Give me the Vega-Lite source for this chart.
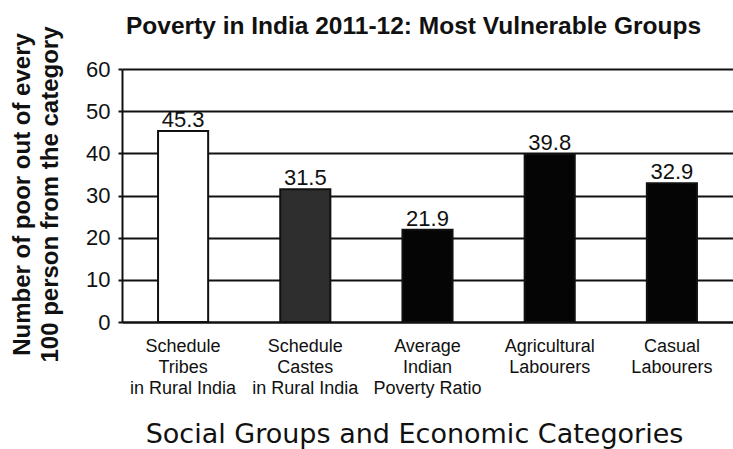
{
  "$schema": "https://vega.github.io/schema/vega-lite/v6.json",
  "autosize": "none",
  "width": 611,
  "height": 253,
  "padding": {"left": 122, "top": 69, "right": 0, "bottom": 127},
  "background": "white",
  "title": {
    "text": "Poverty in India 2011-12: Most Vulnerable Groups",
    "font": "Liberation Sans",
    "fontSize": 24.5,
    "fontWeight": "bold",
    "color": "#111",
    "anchor": "middle",
    "dx": -14,
    "dy": 18,
    "offset": 4
  },
  "data": {
    "values": [
      {"category": "Schedule|Tribes|in Rural India", "value": 45.3, "fill": "white"},
      {"category": "Schedule|Castes|in Rural India", "value": 31.5, "fill": "dark"},
      {"category": "Average|Indian|Poverty Ratio", "value": 21.9, "fill": "black"},
      {"category": "Agricultural|Labourers", "value": 39.8, "fill": "black"},
      {"category": "Casual|Labourers", "value": 32.9, "fill": "black"}
    ]
  },
  "encoding": {
    "x": {
      "field": "category",
      "type": "nominal",
      "sort": null,
      "scale": {"paddingInner": 0.59, "paddingOuter": 0.295},
      "axis": {
        "title": "Social Groups and Economic Categories",
        "titleFont": "DejaVu Sans",
        "titleFontSize": 27,
        "titleFontWeight": "normal",
        "titleColor": "#111",
        "titleBaseline": "alphabetic",
        "titleX": 292,
        "titleY": 120,
        "labelExpr": "split(datum.label, '|')",
        "labelAngle": 0,
        "labelFont": "Liberation Sans",
        "labelFontSize": 18,
        "labelLineHeight": 21,
        "labelColor": "#111",
        "labelPadding": 15,
        "labelBaseline": "top",
        "ticks": false,
        "domainColor": "#111",
        "domainWidth": 2,
        "grid": false
      }
    },
    "y": {
      "field": "value",
      "type": "quantitative",
      "scale": {"domain": [0, 60]},
      "axis": {
        "title": ["Number of poor out of every", "100 person from the category"],
        "titleFont": "Liberation Sans",
        "titleFontSize": 24,
        "titleFontWeight": "bold",
        "titleColor": "#111",
        "titleLineHeight": 28,
        "titleAngle": -90,
        "titleBaseline": "middle",
        "titleX": -100,
        "titleY": 125,
        "values": [0, 10, 20, 30, 40, 50, 60],
        "labelFont": "Liberation Sans",
        "labelFontSize": 22,
        "labelColor": "#111",
        "labelPadding": 8,
        "tickSize": 4,
        "tickWidth": 2,
        "tickColor": "#111",
        "domainColor": "#111",
        "domainWidth": 2,
        "grid": true,
        "gridColor": "#111",
        "gridWidth": 2
      }
    }
  },
  "layer": [
    {
      "mark": {"type": "bar", "stroke": "#111", "strokeWidth": 2},
      "encoding": {
        "fill": {
          "field": "fill",
          "type": "nominal",
          "scale": {"domain": ["white", "dark", "black"], "range": ["#ffffff", "#2e2e2e", "#050505"]},
          "legend": null
        }
      }
    },
    {
      "mark": {"type": "text", "baseline": "alphabetic", "dy": -4, "font": "Liberation Sans", "fontSize": 22, "color": "#111"},
      "encoding": {"text": {"field": "value", "type": "quantitative", "format": ".1f"}}
    }
  ],
  "config": {"view": {"stroke": null}}
}
